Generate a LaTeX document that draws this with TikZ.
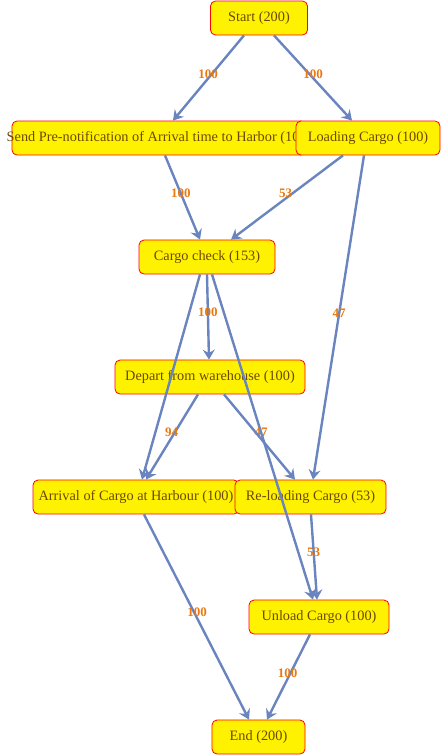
\documentclass[tikz,border=0pt]{standalone}
\usepackage{fontspec}
\setmainfont{Liberation Serif}
\usetikzlibrary{arrows.meta}
\definecolor{edgeblue}{HTML}{6A84BF}
\definecolor{lblorange}{HTML}{E8780F}
\definecolor{txtbrown}{HTML}{6B4A00}
\tikzset{
  box/.style={draw=red, fill=yellow, rounded corners=5pt, line width=0.8pt,
    minimum height=34pt, inner sep=0pt, text=txtbrown, font=\fontsize{14.3}{16}\selectfont},
  conn/.style={draw=edgeblue, line width=2.4pt,
    -{Stealth[length=10pt,width=12pt,inset=3.5pt]}},
  lbl/.style={text=lblorange, font=\fontsize{13}{15}\selectfont\bfseries, inner sep=0pt}
}
\begin{document}
\begin{tikzpicture}[x=1pt,y=-1pt]
\useasboundingbox (0,0) rectangle (441,756);
\node[box, minimum width=97pt] (start) at (259,18) {Start (200)};
\node[box, minimum width=294pt] (send) at (159,138) {};
\node[text=txtbrown, font=\fontsize{14.3}{16}\selectfont, inner sep=0pt] (sendtxt) at (159,138) {Send Pre-notification of Arrival time to Harbor (100)};
\node[box, minimum width=144pt] (load) at (368,138) {Loading Cargo (100)};
\node[box, minimum width=136pt] (check) at (207,257) {Cargo check (153)};
\node[box, minimum width=190pt] (depart) at (210,377) {Depart from warehouse (100)};
\node[box, minimum width=206pt] (arrival) at (136,497) {Arrival of Cargo at Harbour (100)};
\node[box, minimum width=151pt] (reload) at (310.5,497) {Re-loading Cargo (53)};
\node[box, minimum width=140pt] (unload) at (319,617) {Unload Cargo (100)};
\node[box, minimum width=93pt] (end) at (258.5,737) {End (200)};

\draw[conn] ([xshift=-15pt]start.south) -- ([xshift=14pt]send.north)
  node[lbl, pos=0.45, xshift=-4pt] {100};
\draw[conn] ([xshift=15pt]start.south) -- ([xshift=-16pt]load.north)
  node[lbl, pos=0.45, xshift=4pt] {100};
\draw[conn] ([xshift=6pt]send.south) -- ([xshift=-7pt]check.north)
  node[lbl, pos=0.45] {100};
\draw[conn] ([xshift=-25pt]load.south) -- ([xshift=24pt]check.north)
  node[lbl, pos=0.45, xshift=-7pt] {53};
\draw[conn] ([xshift=-4pt]load.south) -- ([xshift=2.5pt]reload.north)
  node[lbl, pos=0.486] {47};
\draw[conn] (check.south) -- ([xshift=-1pt]depart.north)
  node[lbl, pos=0.44] {100};
\draw[conn] ([xshift=-7pt]check.south) -- ([xshift=6pt]arrival.north);
\draw[conn] ([xshift=5pt]check.south) -- ([xshift=-6pt]unload.north)
  node[lbl, pos=0.486] {47};
\draw[conn] ([xshift=-12pt]depart.south) -- ([xshift=10pt]arrival.north)
  node[lbl, pos=0.45, xshift=-3pt] {94};
\draw[conn] ([xshift=14pt]depart.south) -- ([xshift=-15.5pt]reload.north);
\draw[conn] ([xshift=0.5pt]reload.south) -- ([xshift=-2pt]unload.north)
  node[lbl, pos=0.45] {53};
\draw[conn] ([xshift=8pt]arrival.south) -- ([xshift=-9.5pt]end.north)
  node[lbl, pos=0.478, xshift=3pt] {100};
\draw[conn] ([xshift=-9pt]unload.south) -- ([xshift=8.5pt]end.north)
  node[lbl, pos=0.45, xshift=-3pt] {100};
\end{tikzpicture}
\end{document}
